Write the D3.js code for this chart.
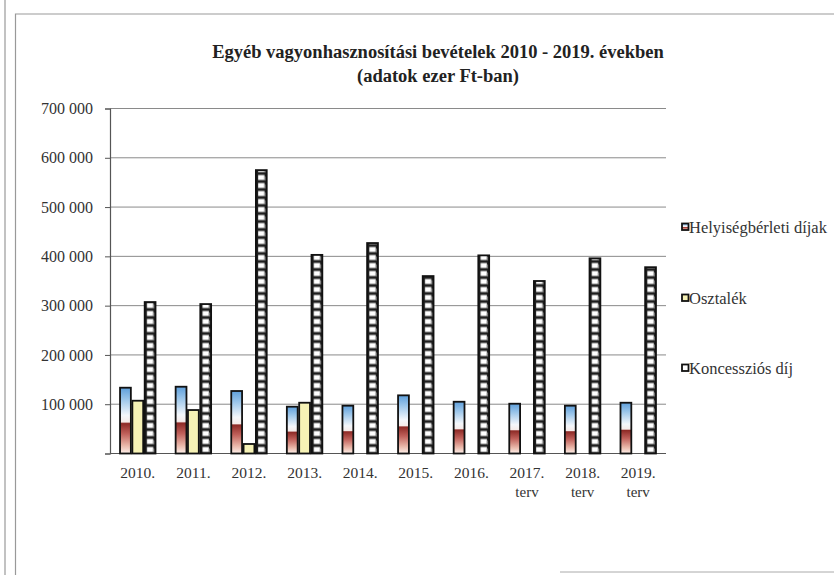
<!DOCTYPE html>
<html><head><meta charset="utf-8">
<script src="https://cdn.jsdelivr.net/npm/d3@7/dist/d3.min.js"></script>
<style>body{margin:0;background:#fff}svg{display:block}</style>
</head><body>
<svg id="c" width="834" height="575"></svg>
<script>
const years = ["2010.","2011.","2012.","2013.","2014.","2015.","2016.","2017.","2018.","2019."];
const yearSub = ["","","","","","","","terv","terv","terv"];
const seriesNames = ["Helyiségbérleti díjak","Osztalék","Koncessziós díj"];
const helyiseg = [133500,135500,126800,95000,97000,118000,105000,101000,97000,103000];
const osztalek = [107100,88200,19300,103000,0,0,0,0,0,0];
const koncesszio = [307300,303200,575000,403000,427000,360000,402000,350000,396000,378000];
const yTicks = [0,100000,200000,300000,400000,500000,600000,700000];
const titleLines = ["Egyéb vagyonhasznosítási bevételek 2010 - 2019. években","(adatok ezer Ft-ban)"];

(function(){
const svg = d3.select("#c");
const W = 834, H = 575;
const pL = 110, pR = 666, pT = 108.5, pB = 453.5;
const serif = "'Liberation Serif','Times New Roman',serif";

// frame
svg.append("line").attr("x1",5).attr("x2",5).attr("y1",0).attr("y2",H).attr("stroke","#999").attr("stroke-width",1.2);
svg.append("path").attr("d",`M834,14 H15.5 V575`).attr("fill","none").attr("stroke","#999").attr("stroke-width",1.2);
svg.append("line").attr("x1",560).attr("x2",834).attr("y1",572).attr("y2",572).attr("stroke","#aaa").attr("stroke-width",1);

const defs = svg.append("defs");
const grad = defs.append("linearGradient").attr("id","gH").attr("x1",0).attr("y1",0).attr("x2",0).attr("y2",1);
[[0,"#5e9fdb"],[0.18,"#9cc6ea"],[0.42,"#f4f7fb"],[0.52,"#f6ecea"],[0.545,"#8e2a26"],[0.7,"#c0605a"],[0.88,"#eab8aa"],[1,"#fdf0ea"]]
  .forEach(([o,c])=>grad.append("stop").attr("offset",o).attr("stop-color",c));

const x0 = d3.scaleBand().domain(years).range([pL,pR]).paddingInner(0.335).paddingOuter(0.167);
const x1 = d3.scaleBand().domain(seriesNames).range([0,x0.bandwidth()]);
const y = d3.scaleLinear().domain([0,700000]).range([pB,pT]);

// gridlines
svg.append("g").selectAll("line").data(yTicks.filter(d=>d>0)).join("line")
  .attr("x1",pL).attr("x2",pR).attr("y1",d=>y(d)).attr("y2",d=>y(d))
  .attr("stroke","#8a8a8a").attr("stroke-width",1);

// y axis
const yAxis = d3.axisLeft(y).tickValues(yTicks).tickSize(5).tickPadding(12)
  .tickFormat(d=> d===0 ? "" : d3.format(",")(d).replace(/,/g," "));
const ga = svg.append("g").attr("transform",`translate(${pL},0)`).call(yAxis);
ga.select(".domain").attr("stroke","#555").attr("stroke-width",1.2);
ga.selectAll(".tick line").attr("stroke","#555");
ga.selectAll("text").attr("font-family",serif).attr("font-size",16).attr("fill","#333");

// baseline
svg.append("line").attr("x1",pL).attr("x2",pR).attr("y1",y(0)).attr("y2",y(0)).attr("stroke","#555").attr("stroke-width",1.2);

const data = years.map((yr,i)=>({yr, vals:[helyiseg[i],osztalek[i],koncesszio[i]]}));
const fills = ["url(#gH)","#f6f2b6",null];

data.forEach((d,i)=>{
  d.vals.forEach((v,s)=>{
    if(v<=0) return;
    const bx = x0(d.yr)+x1(seriesNames[s]);
    const bw = x1.bandwidth();
    const by = y(v), bh = y(0)-y(v);
    let fill = fills[s];
    if(s===2){
      const pid = "pk"+i;
      const p = defs.append("pattern").attr("id",pid).attr("patternUnits","userSpaceOnUse")
        .attr("x",bx).attr("y",y(0)).attr("width",bw).attr("height",8);
      p.append("rect").attr("width",bw).attr("height",8).attr("fill","#1e1e1e");
      p.append("rect").attr("x",3).attr("y",1.5).attr("width",bw-6).attr("height",5).attr("fill","#fff");
      p.append("rect").attr("x",bw-3).attr("y",3).attr("width",1.5).attr("height",4).attr("fill","#777");
      fill = `url(#${pid})`;
    }
    svg.append("rect").attr("x",bx+0.75).attr("y",by).attr("width",bw-1.5).attr("height",bh)
      .attr("fill",fill).attr("stroke","#111").attr("stroke-width",1.8);
  });
});

// x labels
const xl = svg.append("g");
years.forEach((yr,i)=>{
  const cx = x0(yr)+x0.bandwidth()/2;
  xl.append("text").attr("x",cx).attr("y",478).attr("text-anchor","middle")
    .attr("font-family",serif).attr("font-size",15.5).attr("fill","#333").text(yr);
  if(yearSub[i]) xl.append("text").attr("x",cx).attr("y",497).attr("text-anchor","middle")
    .attr("font-family",serif).attr("font-size",15).attr("fill","#333").text(yearSub[i]);
});

// title
titleLines.forEach((t,i)=>{
  svg.append("text").attr("x",438).attr("y",58+i*24).attr("text-anchor","middle")
    .attr("font-family",serif).attr("font-weight","bold").attr("font-size",18.5).attr("fill","#222").text(t);
});

// legend
const legY = [227,298,368];
const legFills = ["url(#gH)","#f6f2b6","#fff"];
seriesNames.forEach((n,i)=>{
  svg.append("rect").attr("x",682).attr("y",legY[i]-3.5).attr("width",6.5).attr("height",6.5)
    .attr("fill",legFills[i]).attr("stroke","#111").attr("stroke-width",1.8);
  svg.append("text").attr("x",689).attr("y",legY[i]+5.5).attr("font-family",serif)
    .attr("font-size",16.5).attr("fill","#333").text(n);
});
})();
</script>
</body></html>
